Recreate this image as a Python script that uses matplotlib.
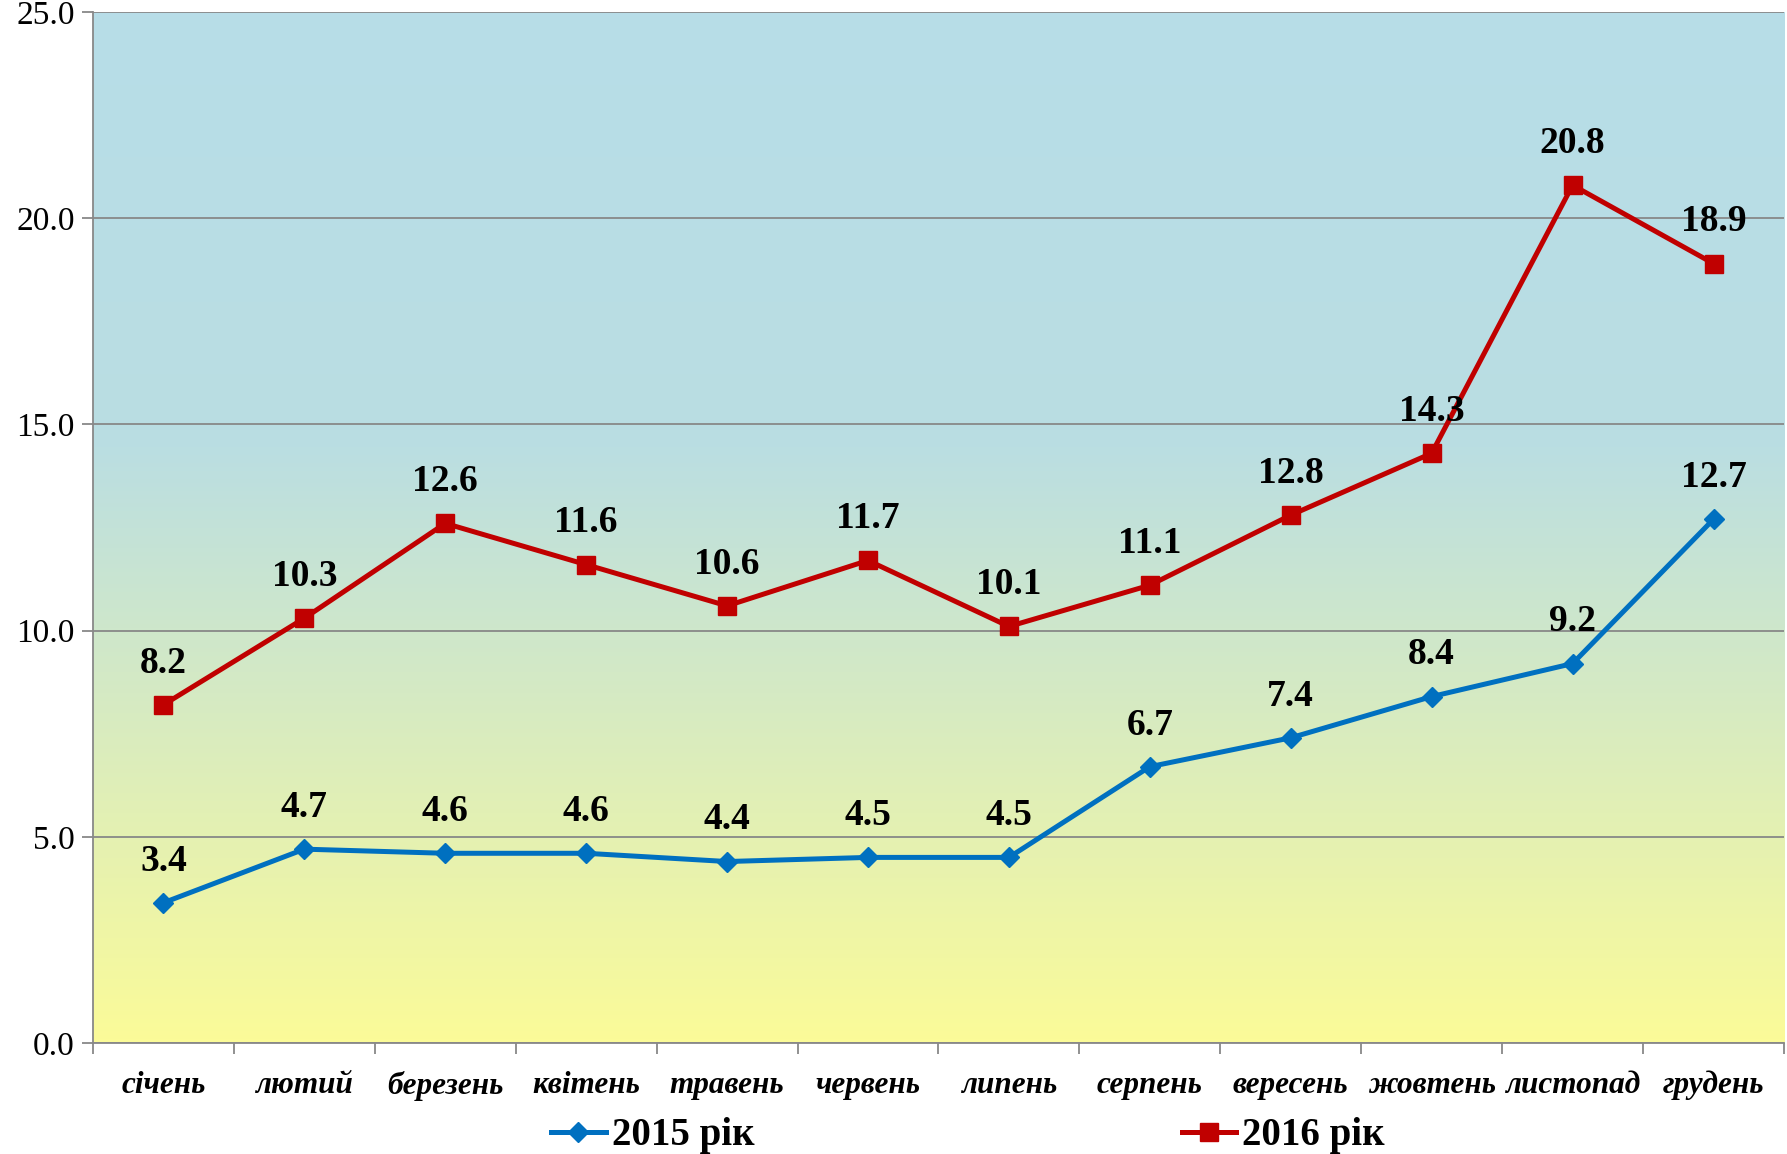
import numpy as np
import matplotlib.pyplot as plt
from matplotlib.colors import LinearSegmentedColormap

months = ['січень', 'лютий', 'березень', 'квітень', 'травень', 'червень',
          'липень', 'серпень', 'вересень', 'жовтень', 'листопад', 'грудень']
y2015 = [3.4, 4.7, 4.6, 4.6, 4.4, 4.5, 4.5, 6.7, 7.4, 8.4, 9.2, 12.7]
y2016 = [8.2, 10.3, 12.6, 11.6, 10.6, 11.7, 10.1, 11.1, 12.8, 14.3, 20.8, 18.9]
yticks = [0, 5, 10, 15, 20, 25]

serif = 'Liberation Serif'

fig = plt.figure(figsize=(17.87, 11.54), dpi=100)
ax = fig.add_axes([0.052, 0.0962, 0.9463, 0.8934])

# background gradient (blue on top, pale yellow at bottom)
cmap = LinearSegmentedColormap.from_list(
    'bg', [(0.0, '#FBFB98'), (0.58, '#BADEE2'), (1.0, '#B7DDE8')])
grad = np.linspace(0, 1, 256).reshape(-1, 1)
ax.imshow(grad, cmap=cmap, origin='lower', aspect='auto',
          extent=(0, 1, 0, 1), transform=ax.transAxes, zorder=0)

x = np.arange(len(months))
ax.plot(x, y2015, color='#0070C0', lw=3.6, marker='D', ms=10,
        label='2015 рік', zorder=3)
ax.plot(x, y2016, color='#C00000', lw=3.6, marker='s', ms=13,
        label='2016 рік', zorder=3)

for xi, v in zip(x, y2015):
    ax.annotate(f'{v:.1f}', (xi, v), xytext=(0, 30), textcoords='offset points',
                ha='center', va='center', fontsize=27, fontweight='bold',
                family=serif, zorder=4)
for xi, v in zip(x, y2016):
    ax.annotate(f'{v:.1f}', (xi, v), xytext=(0, 30), textcoords='offset points',
                ha='center', va='center', fontsize=27, fontweight='bold',
                family=serif, zorder=4)

ax.set_xlim(-0.5, 11.5)
ax.set_ylim(0, 25)
ax.set_yticks(yticks)
ax.set_yticklabels([f'{t:.1f}' for t in yticks], fontsize=24, family=serif)
ax.yaxis.grid(True, color='#888888', lw=1.3, zorder=1)
ax.set_axisbelow(False)

ax.set_xticks(x)
ax.set_xticklabels(months, fontsize=22.5, family=serif, fontweight='bold',
                   style='italic')
ax.set_xticks(np.arange(-0.5, 12, 1), minor=True)
ax.tick_params(axis='x', which='major', length=0, pad=20)
ax.tick_params(axis='x', which='minor', length=8, width=1.3, color='#888888')
ax.tick_params(axis='y', length=8, width=1.3, color='#888888', pad=5)

for s in ['top', 'right']:
    ax.spines[s].set_visible(False)
for s in ['left', 'bottom']:
    ax.spines[s].set_color('#888888')
    ax.spines[s].set_linewidth(1.3)

fig.legend(loc='center', bbox_to_anchor=(0.5417, 0.0156), ncol=2,
           frameon=False, columnspacing=11.0, handlelength=1.4,
           handletextpad=0.15,
           prop={'family': serif, 'weight': 'bold', 'size': 28})

fig.savefig('out.png', dpi=100)
